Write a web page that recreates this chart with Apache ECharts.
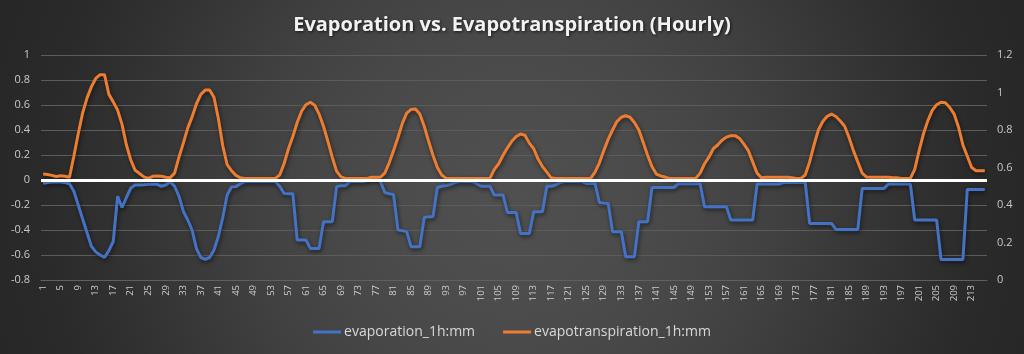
<!DOCTYPE html>
<html>
<head>
<meta charset="utf-8">
<script src="https://cdn.jsdelivr.net/npm/echarts@6/dist/echarts.min.js"></script>
<style>
html,body{margin:0;padding:0;width:1024px;height:354px;overflow:hidden;}
#chart{width:1024px;height:354px;
background: radial-gradient(circle at 512px 200px, #505050 0px, #4c4c4c 110px, #474747 190px, #414141 260px, #393939 330px, #313131 400px, #2a2a2a 470px, #252525 580px);}
</style>
</head>
<body>
<div id="chart"></div>
<script>
const titleText = 'Evaporation vs. Evapotranspiration (Hourly)';
const seriesNames = ['evaporation_1h:mm', 'evapotranspiration_1h:mm'];

const categories = [];
for (let i = 1; i <= 216; i++) categories.push(String(i));

const evaporation = [
  -0.027, -0.02, -0.016, -0.016, -0.016, -0.02, -0.03, -0.09, -0.2, -0.31,
  -0.42, -0.53, -0.575, -0.6, -0.62, -0.565, -0.49, -0.13, -0.22, -0.14,
  -0.065, -0.04, -0.04, -0.038, -0.035, -0.033, -0.035, -0.05, -0.04, -0.015,
  -0.05, -0.13, -0.25, -0.32, -0.4, -0.55, -0.62, -0.635, -0.62, -0.56,
  -0.45, -0.3, -0.12, -0.055, -0.053, -0.03, -0.013, -0.012, -0.012, -0.012,
  -0.012, -0.012, -0.012, -0.012, -0.05, -0.107, -0.11, -0.11, -0.48, -0.48,
  -0.48, -0.547, -0.547, -0.547, -0.333, -0.333, -0.333, -0.053, -0.045, -0.045,
  -0.013, -0.012, -0.012, -0.012, -0.005, 0.003, 0.006, -0.01, -0.1, -0.11,
  -0.115, -0.4, -0.405, -0.413, -0.533, -0.533, -0.533, -0.3, -0.293, -0.293,
  -0.06, -0.05, -0.045, -0.035, -0.02, -0.012, -0.012, -0.012, -0.012, -0.03,
  -0.05, -0.05, -0.05, -0.12, -0.12, -0.12, -0.26, -0.26, -0.26, -0.427,
  -0.427, -0.427, -0.253, -0.253, -0.253, -0.05, -0.05, -0.04, -0.02, -0.012,
  -0.012, -0.012, -0.012, -0.012, -0.027, -0.027, -0.027, -0.18, -0.185, -0.187,
  -0.413, -0.413, -0.413, -0.613, -0.613, -0.613, -0.333, -0.333, -0.333, -0.06,
  -0.06, -0.06, -0.06, -0.06, -0.06, -0.03, -0.03, -0.03, -0.03, -0.03,
  -0.03, -0.213, -0.213, -0.213, -0.213, -0.213, -0.213, -0.32, -0.32, -0.32,
  -0.32, -0.32, -0.32, -0.032, -0.032, -0.032, -0.032, -0.032, -0.032, -0.02,
  -0.02, -0.02, -0.02, -0.02, -0.02, -0.347, -0.347, -0.347, -0.347, -0.347,
  -0.347, -0.395, -0.395, -0.395, -0.395, -0.395, -0.395, -0.067, -0.067, -0.067,
  -0.067, -0.067, -0.067, -0.032, -0.032, -0.032, -0.032, -0.032, -0.032, -0.32,
  -0.32, -0.32, -0.32, -0.32, -0.32, -0.635, -0.635, -0.635, -0.635, -0.635,
  -0.635, -0.075, -0.075, -0.075, -0.075, -0.075
];

const evapotranspiration = [
  0.565, 0.563, 0.558, 0.552, 0.556, 0.553, 0.548, 0.66, 0.78, 0.89,
  0.97, 1.03, 1.075, 1.095, 1.095, 0.99, 0.95, 0.905, 0.83, 0.72,
  0.64, 0.585, 0.568, 0.55, 0.542, 0.553, 0.555, 0.553, 0.548, 0.545,
  0.57, 0.655, 0.73, 0.81, 0.87, 0.94, 0.99, 1.013, 1.013, 0.975,
  0.86, 0.716, 0.615, 0.583, 0.558, 0.545, 0.542, 0.542, 0.542, 0.542,
  0.542, 0.542, 0.542, 0.542, 0.56, 0.62, 0.70, 0.765, 0.84, 0.9,
  0.935, 0.948, 0.932, 0.885, 0.82, 0.74, 0.655, 0.58, 0.55, 0.542,
  0.542, 0.542, 0.542, 0.542, 0.542, 0.548, 0.548, 0.548, 0.57, 0.625,
  0.69, 0.76, 0.835, 0.89, 0.91, 0.912, 0.885, 0.82, 0.74, 0.665,
  0.6, 0.56, 0.542, 0.542, 0.542, 0.542, 0.542, 0.542, 0.542, 0.542,
  0.542, 0.542, 0.542, 0.59, 0.62, 0.665, 0.705, 0.74, 0.765, 0.779,
  0.772, 0.73, 0.7, 0.645, 0.605, 0.575, 0.545, 0.542, 0.542, 0.542,
  0.542, 0.542, 0.542, 0.542, 0.542, 0.542, 0.575, 0.625, 0.69, 0.75,
  0.8, 0.845, 0.868, 0.876, 0.868, 0.84, 0.8, 0.734, 0.665, 0.605,
  0.565, 0.555, 0.549, 0.542, 0.542, 0.542, 0.542, 0.542, 0.542, 0.542,
  0.57, 0.62, 0.655, 0.7, 0.72, 0.745, 0.762, 0.77, 0.77, 0.755,
  0.725, 0.69, 0.63, 0.57, 0.545, 0.548, 0.548, 0.548, 0.548, 0.548,
  0.548, 0.545, 0.542, 0.542, 0.56, 0.63, 0.72, 0.8, 0.845, 0.873,
  0.885, 0.872, 0.848, 0.82, 0.76, 0.69, 0.63, 0.57, 0.549, 0.548,
  0.548, 0.548, 0.548, 0.548, 0.545, 0.545, 0.542, 0.542, 0.542, 0.59,
  0.69, 0.78, 0.85, 0.905, 0.935, 0.948, 0.945, 0.92, 0.885, 0.815,
  0.72, 0.66, 0.6, 0.583, 0.583, 0.583
];

const chart = echarts.init(document.getElementById('chart'), null, {renderer: 'canvas'});
const fontFamily = '"Open Sans", "Noto Sans", sans-serif';
const shadow = {shadowColor: 'rgba(0,0,0,0.55)', shadowBlur: 4, shadowOffsetX: 1, shadowOffsetY: 2};

chart.setOption({
  backgroundColor: 'transparent',
  animation: false,
  textStyle: {fontFamily: fontFamily},
  title: {
    text: titleText,
    left: 'center',
    top: 10,
    textStyle: {
      color: '#f2f2f2', fontSize: 20, fontWeight: 'bold', fontFamily: fontFamily,
      textShadowColor: 'rgba(0,0,0,0.7)', textShadowBlur: 3, textShadowOffsetX: 1, textShadowOffsetY: 1
    }
  },
  legend: {
    data: seriesNames,
    bottom: 10,
    left: 'center',
    icon: 'rect',
    itemWidth: 28,
    itemHeight: 3,
    itemGap: 28,
    textStyle: {color: '#d9d9d9', fontSize: 14, fontFamily: fontFamily, padding: [0, 0, 0, -2]}
  },
  grid: {left: 41, right: 37, top: 55, bottom: 74, containLabel: false},
  xAxis: {
    type: 'category',
    data: categories,
    boundaryGap: true,
    axisLine: {show: true, onZero: false, lineStyle: {color: '#606060', width: 1}},
    axisTick: {show: false},
    splitLine: {show: false},
    axisLabel: {interval: 3, rotate: 90, color: '#cccccc', fontSize: 9.5, margin: 5, fontFamily: fontFamily}
  },
  yAxis: [
    {
      type: 'value', min: -0.8, max: 1, interval: 0.2, position: 'left',
      axisLine: {show: false}, axisTick: {show: false},
      axisLabel: {color: '#c8c8c8', fontSize: 11, margin: 11, fontFamily: fontFamily,
        formatter: function (v) { return String(Math.round(v * 10) / 10); }},
      splitLine: {show: true, lineStyle: {color: '#5c5c5c', width: 1}}
    },
    {
      type: 'value', min: 0, max: 1.2, interval: 0.2, position: 'right',
      axisLine: {show: false}, axisTick: {show: false},
      axisLabel: {color: '#c8c8c8', fontSize: 11, margin: 10, fontFamily: fontFamily,
        formatter: function (v) { return String(Math.round(v * 10) / 10); }},
      splitLine: {show: false}
    }
  ],
  series: [
    {
      name: seriesNames[0],
      type: 'line',
      yAxisIndex: 0,
      data: evaporation,
      showSymbol: false,
      symbol: 'none',
      color: '#4472c4',
      lineStyle: Object.assign({color: '#4472c4', width: 3}, shadow),
      markLine: {
        silent: true,
        symbol: ['none', 'none'],
        label: {show: false},
        lineStyle: {color: '#ffffff', width: 3, type: 'solid', opacity: 1},
        data: [{yAxis: 0}]
      },
      z: 2
    },
    {
      name: seriesNames[1],
      type: 'line',
      yAxisIndex: 1,
      data: evapotranspiration,
      showSymbol: false,
      symbol: 'none',
      color: '#ed7d31',
      lineStyle: Object.assign({color: '#ed7d31', width: 3}, shadow),
      z: 3
    }
  ]
});
</script>
</body>
</html>
